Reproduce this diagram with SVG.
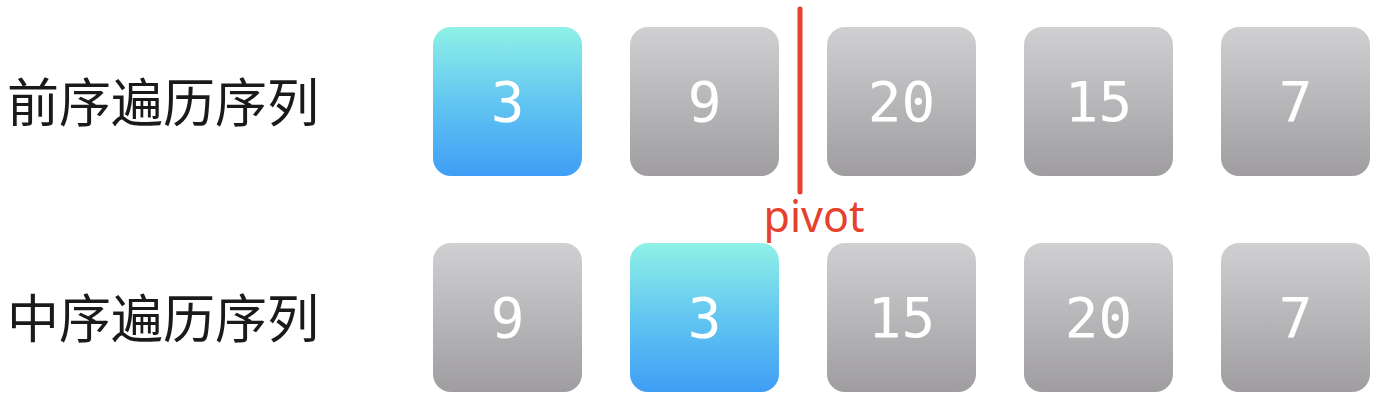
<svg xmlns="http://www.w3.org/2000/svg" width="1390" height="416" viewBox="0 0 1390 416">
<defs>
<linearGradient id="gray" x1="0" y1="0" x2="0" y2="1">
<stop offset="0" stop-color="#d0cfd2"/>
<stop offset="1" stop-color="#9f9da0"/>
</linearGradient>
<linearGradient id="blue" x1="0" y1="0" x2="0" y2="1">
<stop offset="0" stop-color="#8ff1e6"/>
<stop offset="0.5" stop-color="#62c6f1"/>
<stop offset="1" stop-color="#3f9ef5"/>
</linearGradient>
</defs>
<style>
.g{fill:url(#gray)}
.b{fill:url(#blue)}
.n{font-family:"DejaVu Sans Mono",monospace;font-size:56px;fill:#ffffff;text-anchor:middle;dominant-baseline:central}
.lbl{font-family:"Noto Sans CJK SC",sans-serif;font-size:52px;fill:#1a1a1a}
</style>
<rect width="1390" height="416" fill="#ffffff"/>
<g id="label-pre"><text class="lbl" x="7" y="122">前序遍历序列</text></g>
<g id="label-in"><text class="lbl" x="7" y="338">中序遍历序列</text></g>
<g id="pre-0"><rect class="b" x="433" y="27" width="149" height="149" rx="18"/><text class="n" x="507.5" y="101.5">3</text></g>
<g id="pre-1"><rect class="g" x="630" y="27" width="149" height="149" rx="18"/><text class="n" x="704.5" y="101.5">9</text></g>
<g id="pre-2"><rect class="g" x="827" y="27" width="149" height="149" rx="18"/><text class="n" x="901.5" y="101.5">20</text></g>
<g id="pre-3"><rect class="g" x="1024" y="27" width="149" height="149" rx="18"/><text class="n" x="1098.5" y="101.5">15</text></g>
<g id="pre-4"><rect class="g" x="1221" y="27" width="149" height="149" rx="18"/><text class="n" x="1295.5" y="101.5">7</text></g>
<g id="in-0"><rect class="g" x="433" y="243" width="149" height="149" rx="18"/><text class="n" x="507.5" y="317.5">9</text></g>
<g id="in-1"><rect class="b" x="630" y="243" width="149" height="149" rx="18"/><text class="n" x="704.5" y="317.5">3</text></g>
<g id="in-2"><rect class="g" x="827" y="243" width="149" height="149" rx="18"/><text class="n" x="901.5" y="317.5">15</text></g>
<g id="in-3"><rect class="g" x="1024" y="243" width="149" height="149" rx="18"/><text class="n" x="1098.5" y="317.5">20</text></g>
<g id="in-4"><rect class="g" x="1221" y="243" width="149" height="149" rx="18"/><text class="n" x="1295.5" y="317.5">7</text></g>
<g id="connectors">
<line x1="800" y1="9" x2="800" y2="192" stroke="#e5412d" stroke-width="5" stroke-linecap="round"/>
</g>
<g id="pivot-label"><text x="814" y="232" font-family="Noto Sans, sans-serif" font-size="43" fill="#e5412d" text-anchor="middle">pivot</text></g>
</svg>
